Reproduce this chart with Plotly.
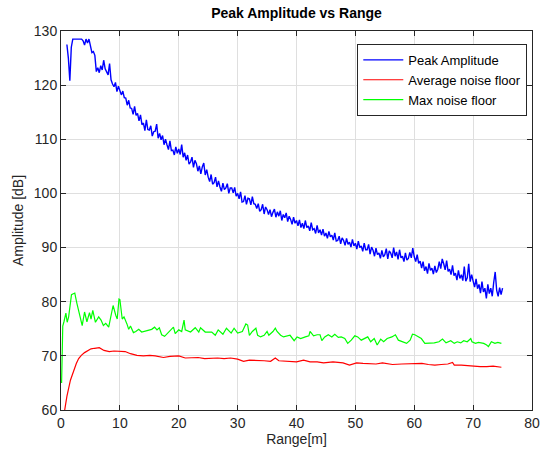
import numpy as np
import plotly.graph_objects as go

# ---------------- data ----------------
peak_x_start = 1.0
peak_x_step = 0.25
peak_amp = [
    127.5, 125.0, 120.8, 127.0, 128.5, 128.5, 128.5, 128.5,
    128.5, 128.5, 128.5, 128.2, 127.4, 128.5, 127.8, 128.5,
    127.4, 126.0, 126.2, 125.5, 122.5, 123.2, 122.3, 123.6,
    122.8, 124.6, 123.0, 122.4, 121.9, 124.0, 121.0, 120.2,
    119.7, 120.5, 118.8, 119.8, 119.1, 118.2, 118.9, 117.7,
    117.6, 116.3, 117.2, 115.8, 115.7, 114.6, 116.1, 114.4,
    114.8, 113.4, 114.5, 112.7, 113.0, 111.6, 113.6, 111.8,
    111.7, 112.5, 110.6, 111.4, 111.5, 112.8, 110.2, 111.1,
    109.9, 110.7, 109.0, 110.0, 109.0, 108.1, 109.7, 107.9,
    108.0, 107.1, 108.6, 107.4, 108.2, 107.2, 109.0, 106.7,
    107.5, 106.1, 107.1, 105.4, 105.8, 106.7, 104.8, 106.1,
    105.5, 104.1, 105.1, 103.6, 104.9, 105.6, 103.4, 104.4,
    103.0, 102.2, 103.5, 101.7, 102.0, 103.0, 101.2, 102.3,
    101.2, 100.4, 101.9, 100.7, 101.0, 101.8, 100.0, 101.0,
    101.0, 100.1, 101.1, 99.5, 100.0, 99.0, 100.3, 98.4,
    98.5, 99.6, 98.0, 99.1, 99.0, 97.9, 99.4, 98.1,
    98.0, 97.2, 98.1, 96.7, 97.0, 98.0, 96.2, 97.5,
    97.0, 96.1, 97.0, 95.7, 96.5, 97.1, 95.6, 96.6,
    95.8, 96.8, 95.0, 96.1, 95.5, 96.4, 94.8, 95.8,
    95.2, 94.3, 95.6, 94.5, 95.0, 94.0, 95.1, 93.7,
    94.5, 93.5, 95.0, 93.7, 94.0, 93.1, 94.6, 93.3,
    93.5, 92.6, 94.1, 92.7, 93.3, 92.3, 93.4, 92.1,
    92.7, 91.7, 93.0, 92.0, 92.3, 91.4, 92.7, 91.2,
    91.3, 92.1, 90.7, 91.8, 91.3, 90.4, 91.7, 90.6,
    91.0, 90.1, 91.5, 90.3, 90.8, 89.7, 91.2, 90.0,
    90.3, 89.3, 90.8, 89.6, 89.6, 90.6, 88.8, 90.1,
    89.5, 88.4, 89.9, 88.7, 89.0, 88.0, 89.5, 88.3,
    88.7, 89.8, 87.9, 89.4, 89.0, 88.1, 90.0, 88.4,
    89.2, 87.8, 89.6, 88.1, 88.4, 87.4, 89.0, 87.7,
    88.0, 89.1, 88.1, 89.9, 88.3, 87.4, 88.7, 87.1,
    87.5, 86.2, 87.4, 85.7, 86.5, 85.2, 87.1, 85.8,
    86.2, 85.1, 86.6, 85.4, 86.0, 87.4, 86.1, 87.9,
    87.0, 85.9, 87.6, 85.6, 86.0, 85.0, 86.7, 84.8,
    85.3, 84.0, 85.8, 84.3, 85.0, 83.9, 86.5, 83.8,
    84.4, 87.0, 83.7, 85.0, 83.8, 82.7, 84.2, 82.4,
    83.2, 81.6, 83.7, 81.8, 82.5, 80.6, 83.2, 81.5,
    82.5, 81.0, 83.6, 85.5, 82.1, 81.0, 82.6, 81.3,
    82.5,
]
peak_range = peak_x_start + peak_x_step * np.arange(len(peak_amp))

max_noise_range = [
    0.1, 0.3, 0.5, 0.83, 1.05, 1.3, 1.78, 2.34, 2.7, 3.2, 3.6, 4.0, 4.4, 4.84,
    5.1, 5.4, 5.85, 6.4, 6.8, 7.2, 7.6, 8.1, 8.5, 8.85, 9.3, 9.55, 9.85, 10.0,
    10.4, 10.7, 11.2, 11.5, 11.8, 12.3, 12.7, 13.2, 13.7, 14.3, 14.8, 15.4,
    15.9, 16.3, 16.7, 17.1, 17.6, 18.3, 19.1, 19.4, 20.0, 20.5, 20.9, 21.1,
    22.0, 22.8, 23.4, 23.7, 24.5, 25.6, 26.2, 26.7, 27.5, 28.1, 28.9, 29.4,
    30.0, 30.8, 31.4, 31.7, 32.0, 32.5, 33.1, 33.4, 33.9, 34.5, 35.0, 35.3,
    36.0, 36.4, 36.7, 37.3, 37.8, 38.9, 39.6, 40.1, 40.7, 41.5, 42.1, 42.3,
    42.9, 43.5, 44.0, 44.3, 44.8, 45.4, 46.0, 46.5, 47.1, 47.6, 48.2, 48.7,
    49.3, 49.9, 50.4, 51.0, 51.5, 52.1, 52.6, 53.2, 53.7, 54.3, 54.8, 55.4,
    56.2, 56.8, 57.3, 58.2, 58.7, 59.3, 59.7, 60.1, 60.7, 61.2, 61.8, 62.3,
    63.4, 64.2, 64.8, 65.4, 66.2, 66.8, 67.3, 67.9, 68.4, 69.0, 69.6, 69.8,
    70.4, 70.9, 71.8, 72.3, 72.6, 73.1, 73.7, 74.2, 74.8,
]
max_noise = [
    65.0, 75.5, 76.3, 77.9, 76.2, 77.2, 81.3, 81.6, 79.7, 77.4, 75.6, 78.1, 76.3, 78.0,
    76.8, 78.4, 76.2, 77.2, 76.6, 75.6, 76.0, 75.3, 77.5, 79.3, 77.5, 76.8, 80.5, 80.4,
    76.8, 77.2, 75.9, 74.9, 75.5, 74.3, 74.5, 74.9, 74.4, 74.6, 74.8, 74.9,
    75.3, 74.8, 75.2, 73.9, 73.6, 74.4, 75.3, 74.1, 74.8, 74.5, 76.6, 74.8,
    74.4, 75.2, 74.4, 75.2, 74.4, 74.4, 73.8, 74.8, 74.0, 75.1, 74.2, 75.1,
    74.2, 74.5, 75.9, 75.7, 73.8, 74.5, 75.1, 73.8, 73.5, 73.8, 74.5, 73.8,
    74.5, 75.1, 74.5, 73.8, 73.5, 73.8, 72.8, 73.5, 73.2, 73.5, 73.7, 74.5,
    73.7, 73.9, 73.9, 72.8, 73.5, 73.9, 73.5, 74.0, 73.4, 73.5, 73.2, 72.3,
    72.9, 73.7, 73.5, 72.9, 73.2, 73.5, 72.6, 73.2, 72.0, 73.1, 72.6, 73.2,
    73.5, 73.9, 72.9, 72.6, 72.3, 72.9, 74.0, 73.9, 73.5, 73.2, 72.3, 72.3,
    72.4, 72.6, 73.1, 72.4, 72.8, 72.3, 72.6, 72.4, 72.8, 72.6, 73.2, 72.6,
    72.3, 72.5, 72.3, 72.0, 71.7, 72.6, 72.3, 72.5, 72.3,
]

avg_noise_range = [
    0.6, 1.0, 1.6, 2.2, 2.6, 3.0, 3.45, 4.0, 4.56, 5.1, 5.7, 6.5, 7.3, 8.2,
    9.0, 10.1, 10.9, 11.8, 12.9, 14.0, 15.1, 16.0, 17.4, 18.5, 19.4, 20.0,
    21.1, 22.2, 23.3, 24.4, 25.6, 26.6, 27.7, 28.8, 30.0, 31.0, 32.0, 33.4,
    34.5, 35.6, 36.4, 37.0, 38.0, 38.9, 40.0, 41.2, 42.3, 43.5, 44.6, 46.2,
    47.9, 49.0, 50.2, 51.3, 52.4, 53.5, 54.6, 56.3, 57.9, 59.6, 61.3, 62.4,
    63.5, 64.6, 65.7, 66.5, 66.8, 68.0, 69.0, 70.1, 71.2, 72.3, 73.4, 74.8,
]
avg_noise = [
    59.8, 62.5, 65.5, 67.6, 68.6, 69.5, 70.1, 70.6, 71.0, 71.3, 71.4, 71.5, 71.0, 70.8,
    70.9, 70.9, 70.8, 70.4, 70.1, 70.0, 70.1, 70.0, 69.7, 69.9, 69.9, 70.0,
    69.6, 69.6, 69.7, 69.5, 69.6, 69.6, 69.5, 69.6, 69.4, 69.0, 69.2, 69.2,
    69.1, 69.0, 69.6, 69.1, 69.0, 69.0, 68.9, 69.2, 68.9, 68.9, 68.7, 68.9,
    68.7, 68.3, 68.7, 68.6, 68.6, 68.5, 68.7, 68.4, 68.5, 68.6, 68.6, 68.4,
    68.3, 68.4, 68.5, 68.8, 68.3, 68.3, 68.2, 68.0, 68.0, 68.0, 68.1, 67.9,
]

x_ticks = [0, 10, 20, 30, 40, 50, 60, 70, 80]
y_ticks = [60, 70, 80, 90, 100, 110, 120, 130]

# ---------------- figure ----------------
fig = go.Figure()
fig.add_trace(go.Scatter(x=peak_range, y=peak_amp, mode="lines", name="Peak Amplitude",
                         line=dict(color="#0000ff", width=1.4)))
fig.add_trace(go.Scatter(x=avg_noise_range, y=avg_noise, mode="lines", name="Average noise floor",
                         line=dict(color="#ff0000", width=1.2)))
fig.add_trace(go.Scatter(x=max_noise_range, y=max_noise, mode="lines", name="Max noise floor",
                         line=dict(color="#00ff00", width=1.2)))

font_family = "Liberation Sans, Arial, sans-serif"
axis_common = dict(
    showgrid=True, gridcolor="#dfdfdf", gridwidth=1,
    showline=True, linecolor="#262626", linewidth=1, mirror="ticks",
    ticks="inside", ticklen=5, tickcolor="#262626", tickwidth=1,
    zeroline=False,
    tickfont=dict(family=font_family, size=14, color="#262626"),
)

fig.update_layout(
    width=548, height=455,
    margin=dict(l=61, r=8, t=31, b=45),
    paper_bgcolor="white", plot_bgcolor="white",
    font=dict(family=font_family, color="#262626"),
    title=dict(text="<b>Peak Amplitude vs Range</b>", x=0.5, xref="paper",
               y=1 - 13 / 455, yref="container", yanchor="middle",
               font=dict(family=font_family, size=14, color="#000000")),
    xaxis=dict(range=[0, 80], tickvals=x_ticks,
               title=dict(text="Range[m]", font=dict(family=font_family, size=14, color="#262626"),
                          standoff=4),
               **axis_common),
    yaxis=dict(range=[60, 130], tickvals=y_ticks,
               title=dict(text="Amplitude [dB]", font=dict(family=font_family, size=14, color="#262626"),
                          standoff=6),
               **axis_common),
    legend=dict(x=0.99, y=0.966, xanchor="right", yanchor="top",
                bgcolor="white", bordercolor="#262626", borderwidth=1,
                font=dict(family=font_family, size=13, color="#000000"),
                tracegroupgap=0, itemwidth=40),
    showlegend=True,
)

fig.write_html("out.html", post_script="document.body.style.margin='0px';",
               config={"displayModeBar": False})
